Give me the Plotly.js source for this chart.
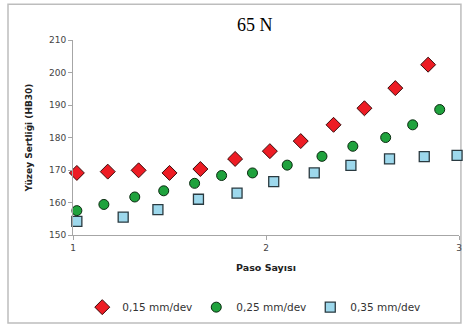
<!DOCTYPE html>
<html>
<head>
<meta charset="utf-8">
<script src="https://cdn.plot.ly/plotly-3.0.1.min.js"></script>
<style>html,body{margin:0;padding:0;background:#fff;}#chart{width:465px;height:328px;}</style>
</head>
<body>
<div id="chart"></div>
<script>
// Data
const seriesNames = ["0,15 mm/dev", "0,25 mm/dev", "0,35 mm/dev"];

const x015 = [1.02, 1.18, 1.34, 1.50, 1.66, 1.84, 2.02, 2.18, 2.35, 2.51, 2.67, 2.84];
const y015 = [169.1, 169.5, 169.9, 169.1, 170.3, 173.4, 175.8, 178.9, 183.9, 189.0, 195.2, 202.4];

const x025 = [1.02, 1.16, 1.32, 1.47, 1.63, 1.77, 1.93, 2.11, 2.29, 2.45, 2.62, 2.76, 2.90];
const y025 = [157.5, 159.4, 161.7, 163.6, 165.9, 168.3, 169.1, 171.5, 174.2, 177.3, 180.0, 183.9, 188.6];

const x035 = [1.02, 1.26, 1.44, 1.65, 1.85, 2.04, 2.25, 2.44, 2.64, 2.82, 2.99];
const y035 = [154.2, 155.5, 157.8, 161.0, 162.9, 166.4, 169.1, 171.4, 173.4, 174.1, 174.5];

const xTicks = [1, 2, 3];
const yTicks = [150, 160, 170, 180, 190, 200, 210];

const traces = [
  {x: x015, y: y015, name: seriesNames[0], type: "scatter", mode: "markers", cliponaxis: false,
   marker: {symbol: "diamond", size: 11.5, color: "#ED1C24", line: {color: "#3a0a0a", width: 1}}},
  {x: x025, y: y025, name: seriesNames[1], type: "scatter", mode: "markers", cliponaxis: false,
   marker: {symbol: "circle", size: 10, color: "#1FA23D", line: {color: "#0a2a10", width: 1}}},
  {x: x035, y: y035, name: seriesNames[2], type: "scatter", mode: "markers", cliponaxis: false,
   marker: {symbol: "square", size: 10, color: "#9DD8EC", line: {color: "#2a3a40", width: 1.3}}}
];

const layout = {
  width: 465, height: 328,
  margin: {l: 73, r: 6, t: 40, b: 91},
  paper_bgcolor: "#fff", plot_bgcolor: "#fff",
  showlegend: true,
  title: {text: "65 N", font: {family: "Liberation Serif", size: 18, color: "#000"},
          x: 0.548, xanchor: "center", y: 0.925, yanchor: "middle"},
  xaxis: {range: [1, 3], tickvals: xTicks, ticktext: xTicks.map(String),
          showgrid: false, zeroline: false, showline: true, linecolor: "#a6a6a6", linewidth: 1,
          ticks: "outside", ticklen: 4, tickcolor: "#a6a6a6",
          tickfont: {family: "DejaVu Sans", size: 9, color: "#444"},
          title: {text: "Paso Sayısı", standoff: 12, font: {family: "DejaVu Sans", size: 9.5, color: "#222", weight: "bold"}}},
  yaxis: {range: [150, 210], tickvals: yTicks, ticktext: yTicks.map(String),
          showgrid: false, zeroline: false, showline: true, linecolor: "#a6a6a6", linewidth: 1,
          ticks: "outside", ticklen: 4, tickcolor: "#a6a6a6",
          tickfont: {family: "DejaVu Sans", size: 9, color: "#444"},
          title: {text: "Yüzey Sertliği (HB30)", standoff: 14, font: {family: "DejaVu Sans", size: 9, color: "#222", weight: "bold"}}},
  legend: {orientation: "h", x: 0.024, xanchor: "left", y: -0.37, yanchor: "middle",
           font: {family: "DejaVu Sans", size: 10.5, color: "#333"}, bgcolor: "rgba(0,0,0,0)",
           entrywidth: 69, entrywidthmode: "pixels", traceorder: "normal"},
  shapes: [{type: "rect", xref: "paper", yref: "paper", x0: -0.1684, x1: 1.005, y0: -0.4518, y1: 1.1827,
            line: {color: "#bdbdbd", width: 1.5}, fillcolor: "rgba(0,0,0,0)", layer: "below"}]
};

Plotly.newPlot("chart", traces, layout, {displayModeBar: false, staticPlot: true});
</script>
</body>
</html>
